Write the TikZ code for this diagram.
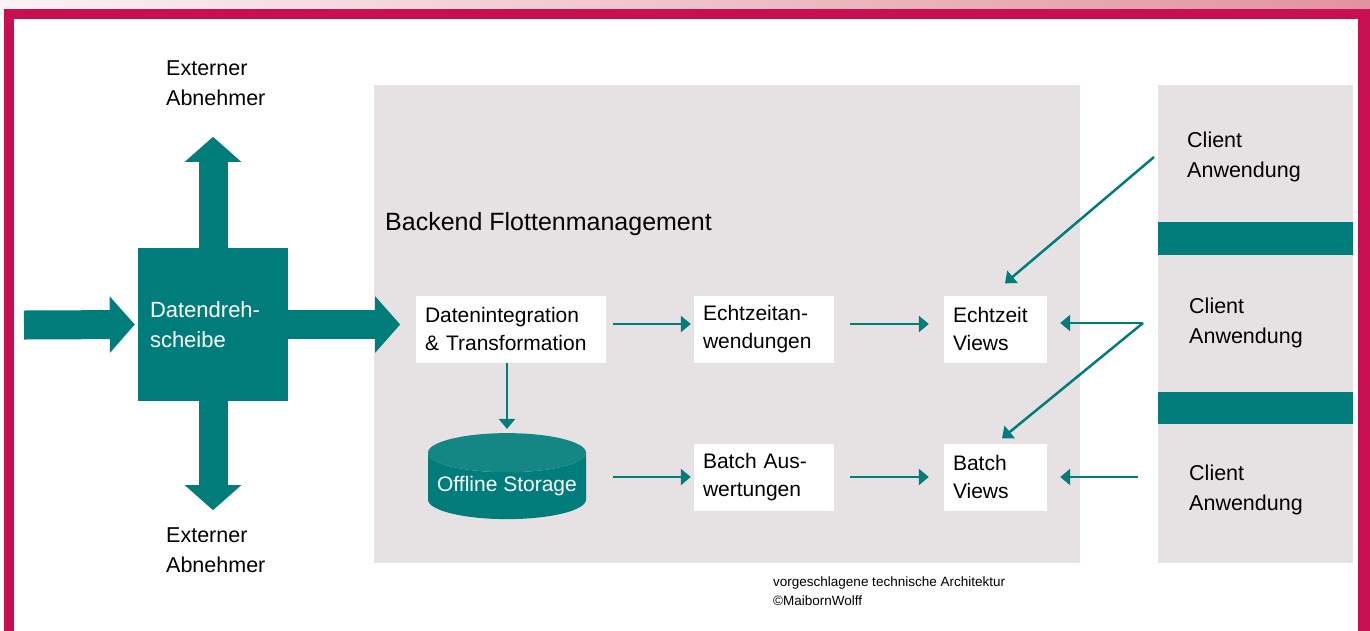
\documentclass[tikz,border=0pt]{standalone}
\usepackage{fontspec}
\setmainfont{Liberation Sans}
\usetikzlibrary{positioning,calc,arrows.meta,shapes.geometric}
\definecolor{framered}{RGB}{200,16,80}
\definecolor{hubteal}{RGB}{0,125,122}
\definecolor{panelgray}{RGB}{230,226,227}
\definecolor{stripleft}{RGB}{250,242,244}
\definecolor{stripright}{RGB}{226,146,158}

\begin{document}
\begin{tikzpicture}[x=1pt, y=-1pt,
    every node/.style={font=\fontsize{21}{28.5}\selectfont, inner sep=0pt},
    box/.style={fill=white, minimum height=67pt, inner xsep=9pt, align=left},
    txt/.style={anchor=west, align=left, font=\fontsize{21.5}{30}\selectfont},
    flow/.style={line width=2.5pt, hubteal, -{Triangle[length=10pt,width=16pt]}},
    bigarrow/.style={line width=29pt, hubteal, -{Triangle[length=25pt,width=55pt]}}]
    \clip (0,0) rectangle (1370,630);

    % Frame
    \shade[left color=stripleft, right color=stripright] (0,0) rectangle (1370,9);
    \fill[framered] (4,9) rectangle (1380,640);
    \fill[white] (14,19) rectangle (1358,640);

    % Panels
    \fill[panelgray] (374,85) rectangle (1080,563);
    \fill[panelgray] (1158,85) rectangle (1353,563);
    \fill[hubteal] (1158,222) rectangle (1353,255);
    \fill[hubteal] (1158,392) rectangle (1353,424);

    % Data hub
    \node[fill=hubteal, text=white, minimum height=153pt, text width=126pt,
          inner xsep=12pt, align=left, font=\fontsize{22}{30}\selectfont]
          (hub) at (213,324.5) {Datendreh-\\scheibe};
    \coordinate (feed) at (24,325);
    \draw[bigarrow] (feed) -- ([xshift=-3pt]hub.west);
    \draw[bigarrow] (hub.north) -- ++(0,-111);
    \draw[bigarrow] (hub.south) -- ++(0,109);
    \draw[bigarrow] (hub.east) -- ++(112,0);

    % Labels
    \node[txt] (exttop) at (166,83) {Externer\\Abnehmer};
    \node[txt] (extbot) at (166,550) {Externer\\Abnehmer};
    \node[anchor=west, font=\fontsize{25}{30}\selectfont] (title) at (385,224) {Backend Flottenmanagement};

    % Backend boxes
    \node[box, text width=172pt] (di) at (511,329) {Datenintegration\\\& Transformation};
    \node[box, text width=122pt] (rt) at (764,329) {Echtzeitan-\\wendungen};
    \node[box, text width=122pt] (ba) at (764,477) {Batch Aus-\\wertungen};
    \node[box, text width=85pt] (ev) at (995.5,329) {Echtzeit\\Views};
    \node[box, text width=85pt] (bv) at (995.5,477) {Batch\\Views};
    \node[cylinder, shape border rotate=90, aspect=0.28, minimum width=158pt, minimum height=86pt,
          cylinder uses custom fill, cylinder body fill=hubteal, cylinder end fill=hubteal!92!white,
          text=white] (store) at (507,486) {Offline Storage};

    % Clients
    \node[txt] (ca) at (1187,157) {Client\\Anwendung};
    \node[txt] (cb) at (1189,323) {Client\\Anwendung};
    \node[txt] (cc) at (1189,490) {Client\\Anwendung};

    % Flows
    \draw[flow, shorten <=7pt, shorten >=3pt] ([yshift=5pt]di.east) -- ([yshift=5pt]rt.west);
    \draw[flow, shorten <=16pt, shorten >=15pt] ([yshift=5pt]rt.east) -- ([yshift=5pt]ev.west);
    \draw[flow, shorten >=4pt] (store.north |- di.south) -- (store.north);
    \draw[flow, shorten <=7pt, shorten >=3pt] (ba.west -| di.east) -- (ba.west);
    \draw[flow, shorten <=16pt, shorten >=15pt] (ba.east) -- (bv.west);

    \draw[flow] ([xshift=-33pt]ca.west) -- ([xshift=9.5pt,yshift=12pt]ev.north);
    \coordinate (fork) at ([xshift=-46pt]cb.west);
    \draw[flow, shorten >=13pt] (fork) -- (fork -| ev.east);
    \draw[flow] (fork) -- ([xshift=6.5pt,yshift=5pt]bv.north);
    \draw[flow, shorten >=13pt] ([xshift=-51pt]cc.west |- bv.east) -- (bv.east);

    % Credit
    \node[anchor=west, align=left, font=\fontsize{13.5}{19}\selectfont] (credit) at (773,591.5)
          {vorgeschlagene technische Architektur\\©MaibornWolff};
\end{tikzpicture}
\end{document}
